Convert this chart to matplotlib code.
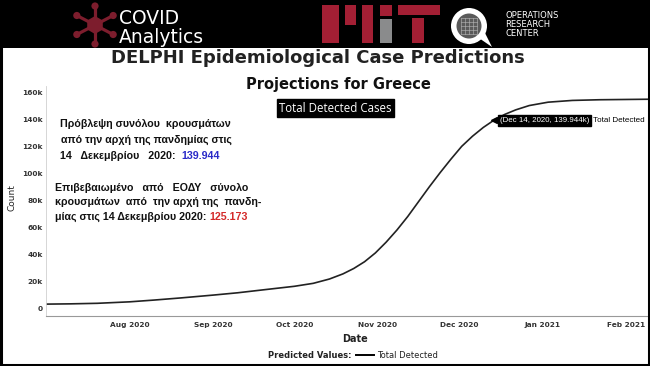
import matplotlib
matplotlib.use("Agg")
import matplotlib.pyplot as plt
import matplotlib.dates as mdates
import matplotlib.patches as mpatches
from matplotlib.ticker import FuncFormatter
import pandas as pd
import math

# values (cumulative detected cases, Greece)
dates = pd.to_datetime([
    "2020-07-01", "2020-07-10", "2020-07-20", "2020-08-01", "2020-08-10",
    "2020-08-20", "2020-09-01", "2020-09-10", "2020-09-20", "2020-10-01",
    "2020-10-08", "2020-10-14", "2020-10-19", "2020-10-23", "2020-10-27",
    "2020-10-31", "2020-11-04", "2020-11-08", "2020-11-12", "2020-11-16",
    "2020-11-20", "2020-11-24", "2020-11-28", "2020-12-02", "2020-12-06",
    "2020-12-10", "2020-12-14", "2020-12-18", "2020-12-22", "2020-12-27",
    "2021-01-03", "2021-01-12", "2021-01-22", "2021-02-10"])
total_detected = [
    3600, 3800, 4200, 5300, 6600,
    8200, 10300, 12000, 14300, 16800,
    19000, 22200, 26000, 30000, 35000,
    41500, 49500, 58500, 68500, 79500,
    90500, 101000, 111000, 120500, 128000,
    134500, 139944, 144200, 147500, 150700,
    153200, 154500, 155000, 155400]

highlight_date = pd.Timestamp("2020-12-14")
highlight_value = 139944
yticks = [0, 20000, 40000, 60000, 80000, 100000, 120000, 140000, 160000]
month_ticks = pd.to_datetime(["2020-08-01", "2020-09-01", "2020-10-01", "2020-11-01",
                              "2020-12-01", "2021-01-01", "2021-02-01"])

W, H = 650, 366
fig = plt.figure(figsize=(6.5, 3.66), dpi=100)
fig.patch.set_facecolor("white")

# main chart
ax = fig.add_axes([46/W, 50/H, 602/W, 229.75/H])
ax.plot(dates, total_detected, color="#222222", lw=1.2)
ax.set_xlim(pd.Timestamp("2020-07-01"), pd.Timestamp("2021-02-09"))
ax.set_ylim(-5200, 165000)
ax.set_yticks(yticks)
ax.yaxis.set_major_formatter(FuncFormatter(lambda v, p: "0" if v == 0 else "%dk" % (v/1000)))
ax.set_xticks(month_ticks)
ax.xaxis.set_major_formatter(mdates.DateFormatter("%b %Y"))
ax.tick_params(length=0, labelsize=5.3, labelcolor="#333333")
ax.tick_params(axis="y", pad=2.5)
ax.tick_params(axis="x", pad=4)
for lab in ax.get_xticklabels() + ax.get_yticklabels():
    lab.set_fontweight("bold")
for s in ["top", "right"]:
    ax.spines[s].set_visible(False)
ax.spines["left"].set_color("#d0d0d0")
ax.spines["left"].set_linewidth(0.6)
ax.spines["bottom"].set_color("#999999")
ax.spines["bottom"].set_linewidth(0.8)
ax.set_xlabel("Date", fontsize=7, fontweight="bold", color="#222222", va="center")
ax.xaxis.set_label_coords(0.513, -0.1)
ax.set_ylabel("Count", fontsize=6.5, color="#222222", va="center")
ax.yaxis.set_label_coords(-0.0565, 0.514)

# tooltip
ax.plot([highlight_date], [highlight_value], marker="<", ms=4, color="black", zorder=5)
tip = ax.annotate("(Dec 14, 2020, %.3fk)" % (highlight_value/1000),
                  xy=(highlight_date, highlight_value), xytext=(4, 0),
                  textcoords="offset points", va="center", ha="left",
                  fontsize=5.7, color="white", family="Liberation Sans",
                  bbox=dict(boxstyle="square,pad=0.25", fc="black", ec="black"))
ax.annotate("Total Detected", xy=(1, 0.5), xycoords=tip, xytext=(3, 0),
            textcoords="offset points", va="center", ha="left",
            fontsize=5.8, color="black", family="Liberation Sans")

# overlay in pixel coordinates for header, texts and frame
bg = fig.add_axes([0, 0, 1, 1])
bg.set_xlim(0, W)
bg.set_ylim(H, 0)
bg.axis("off")

bg.add_patch(mpatches.Rectangle((0, 0), W, 48, fc="black", ec="none"))
bg.add_patch(mpatches.Rectangle((1, 1), W - 2, H - 2, fc="none", ec="black", lw=2.2))

# covid analytics logo
red = "#7d1d2d"
cx, cy = 95, 25
for k in range(6):
    a = math.radians(30 + 60 * k)
    nx, ny = cx + 21 * math.cos(a), cy + 19 * math.sin(a)
    bg.plot([cx, nx], [cy, ny], color=red, lw=2.3)
    bg.add_patch(mpatches.Circle((nx, ny), 3.6, fc=red, ec="none"))
bg.add_patch(mpatches.RegularPolygon((cx, cy), 6, radius=9, fc=red, ec="none"))
bg.text(119, 28, "COVID\nAnalytics", color="white", fontsize=13.5, va="center",
        ha="left", linespacing=0.95)

# MIT logo
mit_red = "#a31f34"
for x0, x1, y0, y1, c in [(322, 339, 5, 43, mit_red), (345, 356, 5, 25, mit_red),
                          (362, 373, 5, 43, mit_red), (380, 392, 5, 16, mit_red),
                          (380, 392, 19, 43, "#8a8b8c"), (398, 440, 5, 15, mit_red),
                          (412, 424, 18, 43, mit_red)]:
    bg.add_patch(mpatches.Rectangle((x0, y0), x1 - x0, y1 - y0, fc=c, ec="none"))

# ORC logo
bg.add_patch(mpatches.Circle((469, 26), 18, fc="white", ec="none"))
bg.add_patch(mpatches.Circle((469, 26), 12.5, fc="#5a5a5a", ec="none"))
for d in (-8, -4, 0, 4, 8):
    bg.plot([461, 477], [26 + d, 26 + d], color="#bbbbbb", lw=0.4)
    bg.plot([469 + d, 469 + d], [18, 34], color="#bbbbbb", lw=0.4)
bg.add_patch(mpatches.Polygon([(476, 36), (492, 47), (485, 33)], fc="white", ec="none"))
bg.text(505, 24.5, "OPERATIONS\nRESEARCH\nCENTER", color="white", fontsize=6,
        va="center", ha="left", linespacing=0.95)

# headings
bg.text(318, 58, "DELPHI Epidemiological Case Predictions", fontsize=13,
        fontweight="bold", color="#222222", ha="center", va="center")
bg.text(338.5, 85, "Projections for Greece", fontsize=10.5, fontweight="bold",
        color="#111111", ha="center", va="center")
bg.text(335.5, 108, "Total Detected Cases", fontsize=8.3, family="Open Sans",
        color="white", ha="center", va="center",
        bbox=dict(boxstyle="square,pad=0.2", fc="black", ec="black"))

# legend
bg.text(352, 355, "Predicted Values:", fontsize=6, fontweight="bold",
        color="#222222", ha="right", va="center")
bg.plot([356, 374], [355, 355], color="black", lw=1.4)
bg.text(377, 355, "Total Detected", fontsize=6, color="#222222", ha="left", va="center")

# greek notes
gfont = dict(family=["Liberation Sans", "DejaVu Sans"],
             fontsize=7.7, fontweight="bold", va="center")
bg.text(60, 124, "Πρόβλεψη συνόλου  κρουσμάτων", color="#111111", ha="left", **gfont)
bg.text(61, 140, "από την αρχή της πανδημίας στις", color="#111111", ha="left", **gfont)
t1 = bg.text(60, 156, "14   Δεκεμβρίου   2020:  ", color="#111111", ha="left", **gfont)
bg.annotate("139.944", xy=(1, 0.5), xycoords=t1, color="#2a2ac8", ha="left", **gfont)
bg.text(55, 188, "Επιβεβαιωμένο   από   ΕΟΔΥ   σύνολο", color="#111111", ha="left", **gfont)
bg.text(55, 202, "κρουσμάτων  από  την αρχή της  πανδη-", color="#111111", ha="left", **gfont)
t2 = bg.text(55, 217, "μίας στις 14 Δεκεμβρίου 2020: ", color="#111111", ha="left", **gfont)
bg.annotate("125.173", xy=(1, 0.5), xycoords=t2, color="#d42a2a", ha="left", **gfont)

fig.savefig("out.png", dpi=100)
